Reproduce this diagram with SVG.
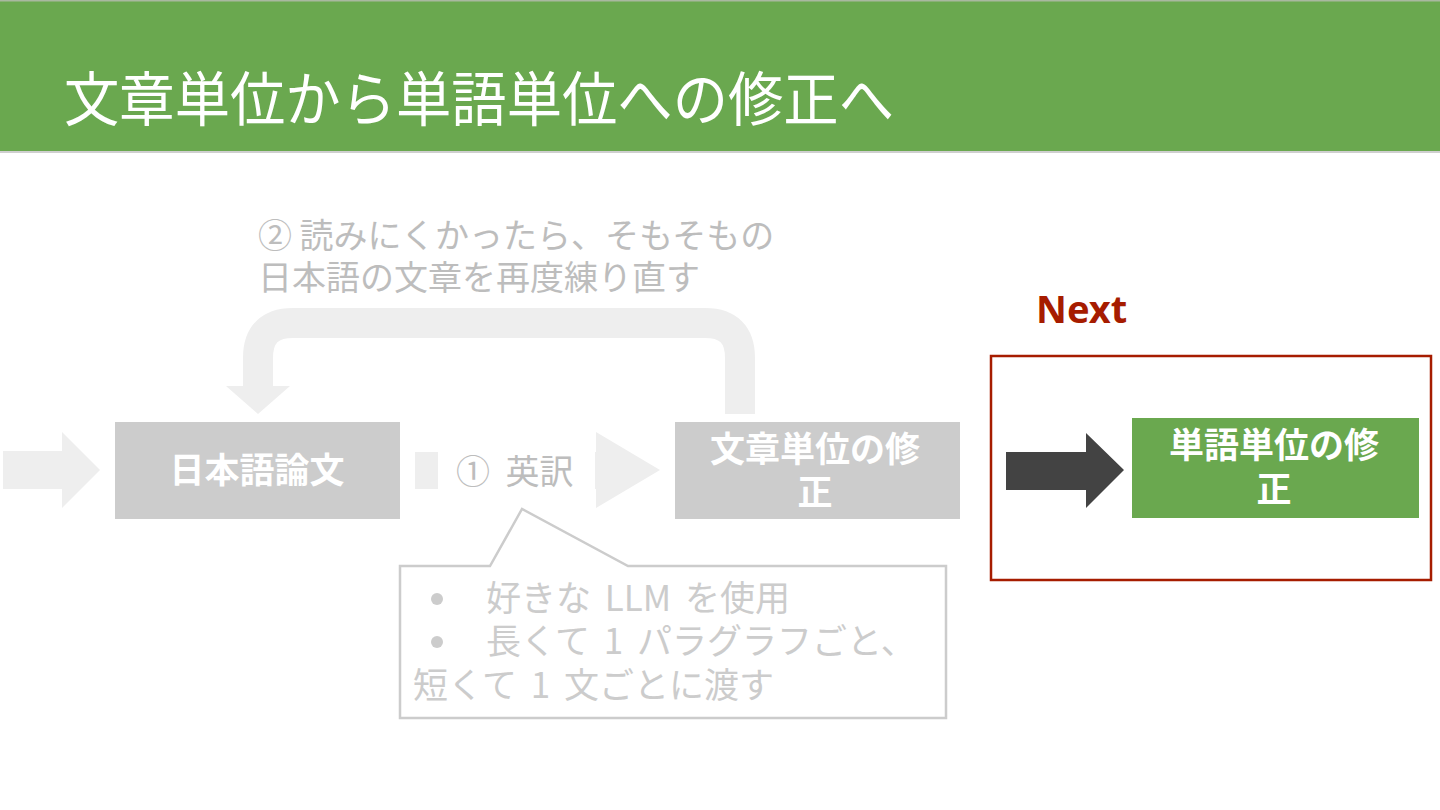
<svg xmlns="http://www.w3.org/2000/svg" width="1440" height="810" viewBox="0 0 1440 810">
<style>
.jp{font-family:"Noto Sans CJK JP","Noto Sans",sans-serif}
.node{font-family:"Noto Sans CJK JP",sans-serif;font-weight:bold;font-size:35px;fill:#ffffff;text-anchor:middle}
.gray{font-family:"Noto Sans CJK JP",sans-serif;font-size:34px;fill:#bdbdbd}
.call{font-family:"Noto Sans CJK JP",sans-serif;font-size:35px;fill:#cccccc;word-spacing:6px}
</style>
<rect x="0" y="0" width="1440" height="810" fill="#ffffff"/>
<g id="header">
<rect x="0" y="0" width="1440" height="152" fill="#6aa84f"/>
<rect x="0" y="0" width="1440" height="1.5" fill="#a9b8a0"/>
<rect x="0" y="151" width="1440" height="2" fill="#cfcfcf"/>
<text x="64" y="121" class="jp" font-size="59" fill="#ffffff" textLength="830" lengthAdjust="spacingAndGlyphs">文章単位から単語単位への修正へ</text>
</g>
<g id="connectors">
<polygon points="3,451 62,451 62,432 100,470 62,508 62,489 3,489" fill="#eeeeee"/>
<polygon points="415,452 596,452 596,432 660,470 596,508 596,489 415,489" fill="#eeeeee"/>
<rect x="438" y="440" width="157" height="62" fill="#ffffff"/>
<path d="M740,414 L740,358 Q740,323 705,323 L293,323 Q258,323 258,358 L258,386" fill="none" stroke="#eeeeee" stroke-width="30"/>
<polygon points="226,386 290,386 258,414" fill="#eeeeee"/>
<polygon points="1006,452 1086,452 1086,433 1124,470 1086,508 1086,490 1006,490" fill="#434343"/>
</g>
<g id="label-translate">
<text x="456" y="484" class="gray" word-spacing="8">① 英訳</text>
</g>
<g id="label-loop">
<text x="258" y="248" class="gray">② 読みにくかったら、そもそもの</text>
<text x="258" y="290" class="gray">日本語の文章を再度練り直す</text>
</g>
<g id="node-japanese">
<rect x="115" y="422" width="285" height="97" fill="#cccccc"/>
<text x="257" y="483" class="node">日本語論文</text>
</g>
<g id="node-sentence">
<rect x="675" y="422" width="285" height="97" fill="#cccccc"/>
<text x="815" y="462" class="node">文章単位の修</text>
<text x="815" y="505" class="node">正</text>
</g>
<g id="callout">
<path d="M400,566 L490,566 L522,509 L628,566 L946,566 L946,718 L400,718 Z" fill="#ffffff" stroke="#cccccc" stroke-width="2.5"/>
<circle cx="437" cy="599" r="6" fill="#cccccc"/>
<text x="486" y="611" class="call">好きな LLM を使用</text>
<circle cx="437" cy="642" r="6" fill="#cccccc"/>
<text x="486" y="654" class="call">長くて 1 パラグラフごと、</text>
<text x="413" y="698" class="call">短くて 1 文ごとに渡す</text>
</g>
<g id="next">
<text x="1036" y="323" font-family="'Noto Sans',sans-serif" font-weight="bold" font-size="38" fill="#a61c00">Next</text>
<rect x="991" y="356" width="440" height="224" fill="none" stroke="#a61c00" stroke-width="2.5"/>
</g>
<g id="node-word">
<rect x="1132" y="418" width="287" height="100" fill="#6aa84f"/>
<text x="1274" y="458" class="node">単語単位の修</text>
<text x="1274" y="502" class="node">正</text>
</g>
</svg>
